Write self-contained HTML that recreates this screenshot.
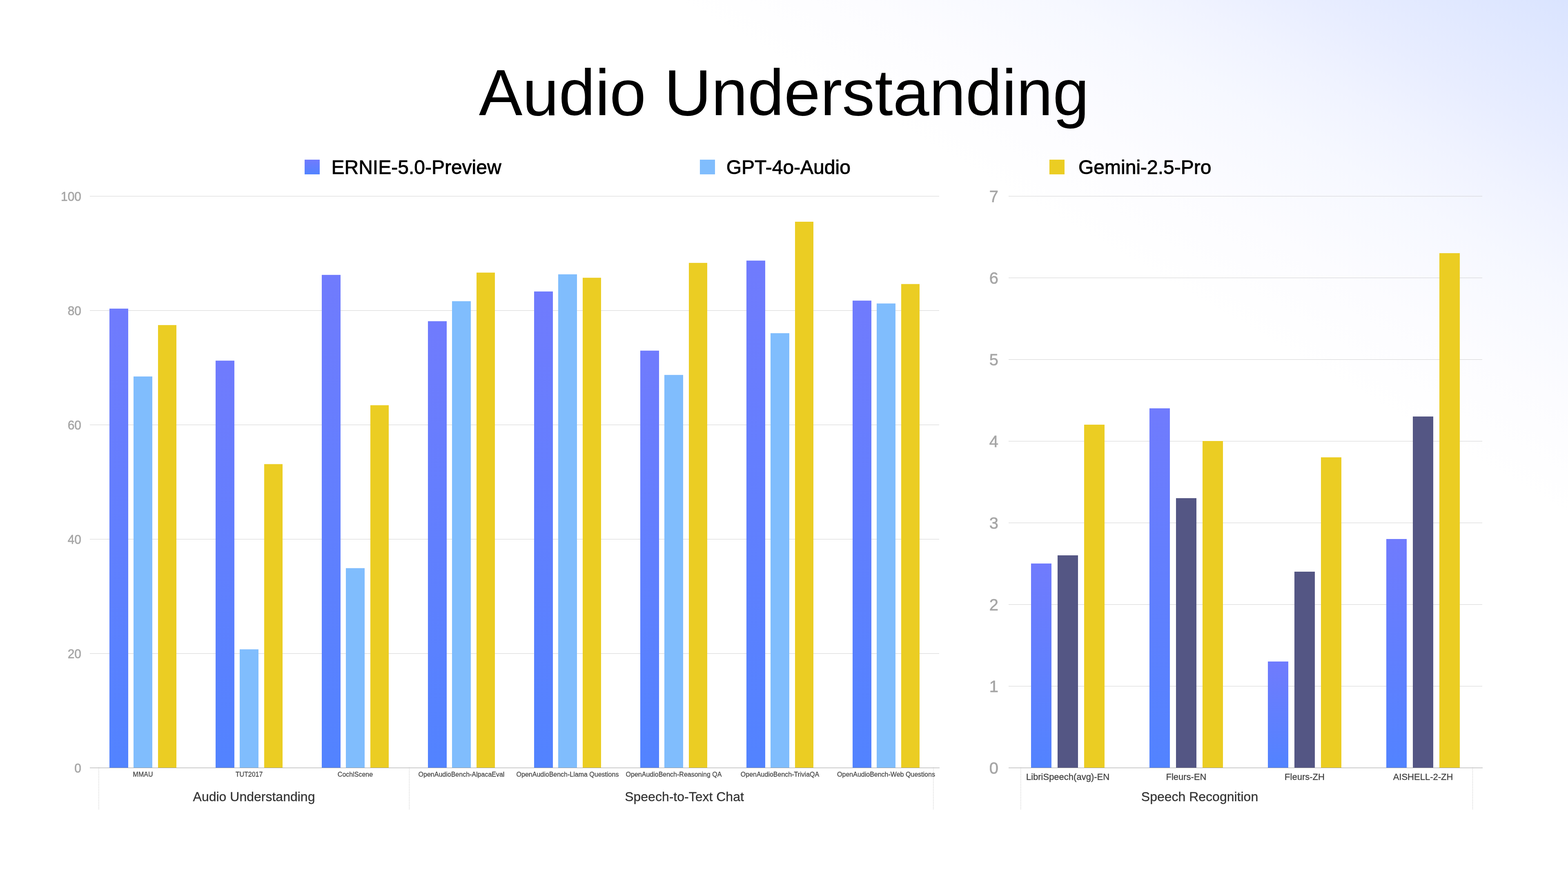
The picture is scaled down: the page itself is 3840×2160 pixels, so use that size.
<!DOCTYPE html>
<html lang="en">
<head>
<meta charset="utf-8">
<title>Audio Understanding</title>
<style>
html,body{margin:0;padding:0;}
body{width:3840px;height:2160px;background:#fff;font-family:"Liberation Sans", sans-serif;}
#slide{position:relative;width:3840px;height:2160px;overflow:hidden;
background:linear-gradient(30deg,#ffffff 0%,#ffffff 71%,#fcfcff 77.2%,#f6f8ff 83.5%,#f0f3ff 87.7%,#e8edff 91.8%,#dae4ff 100%);}
svg{position:absolute;left:0;top:0;display:block;}
text{font-family:"Liberation Sans", sans-serif;}
.title{font-size:160px;fill:#000;}
.legend{font-size:48px;fill:#000;stroke:#000;stroke-width:1px;stroke-linejoin:round;}
.tickL{font-size:30px;fill:#a6a6a6;text-anchor:end;stroke:#a6a6a6;stroke-width:0.7px;}
.tickR{font-size:40px;fill:#a6a6a6;text-anchor:end;stroke:#a6a6a6;stroke-width:0.7px;}
.catL{font-size:16px;fill:#444444;text-anchor:middle;stroke:#444444;stroke-width:0.3px;}
.catR{font-size:22px;fill:#444444;text-anchor:middle;stroke:#444444;stroke-width:0.4px;}
.group{font-size:32px;fill:#333333;text-anchor:middle;stroke:#333333;stroke-width:0.35px;}
</style>
</head>
<body>
<div id="slide">
<svg width="3840" height="2160" viewBox="0 0 3840 2160" role="img" aria-label="Audio Understanding benchmark bar charts">
<defs>
<linearGradient id="gb" x1="0" y1="0" x2="0" y2="1">
<stop offset="0" stop-color="#707bfd"/>
<stop offset="1" stop-color="#5283ff"/>
</linearGradient>
</defs>
<text class="title" x="1920" y="282" text-anchor="middle">Audio Understanding</text>
<g>
<rect x="746" y="391" width="37" height="36" fill="url(#gb)"/>
<text class="legend" x="811.5" y="426.2">ERNIE-5.0-Preview</text>
<rect x="1714" y="391" width="37" height="36" fill="#80bdfd"/>
<text class="legend" x="1778.7" y="426.2">GPT-4o-Audio</text>
<rect x="2570" y="391" width="37" height="36" fill="#ebcd23"/>
<text class="legend" x="2641" y="426.2">Gemini-2.5-Pro</text>
</g>
<g stroke="#dadada" stroke-width="2" stroke-dasharray="2 2" fill="none">
<line x1="241.8" y1="1879.8" x2="241.8" y2="1982"/>
<line x1="1002.4" y1="1879.8" x2="1002.4" y2="1982"/>
<line x1="2285.8" y1="1879.8" x2="2285.8" y2="1982"/>
<line x1="2499.8" y1="1879.8" x2="2499.8" y2="1982"/>
<line x1="3606.4" y1="1879.8" x2="3606.4" y2="1982"/>
</g>
<g id="chart-left">
<rect x="220" y="1600" width="2080" height="1" fill="#d0d0d0"/>
<rect x="220" y="1320" width="2080" height="1" fill="#d0d0d0"/>
<rect x="220" y="1040" width="2080" height="1" fill="#d0d0d0"/>
<rect x="220" y="760" width="2080" height="1" fill="#d0d0d0"/>
<rect x="220" y="480" width="2080" height="1" fill="#d0d0d0"/>
<rect x="268" y="755.8" width="46" height="1124.2" fill="url(#gb)"/>
<rect x="327" y="921.98" width="46" height="958.02" fill="#80bdfd"/>
<rect x="387" y="796.12" width="45" height="1083.88" fill="#ebcd23"/>
<rect x="528" y="883.2" width="46" height="996.8" fill="url(#gb)"/>
<rect x="587" y="1590.2" width="46" height="289.8" fill="#80bdfd"/>
<rect x="647" y="1136.6" width="45" height="743.4" fill="#ebcd23"/>
<rect x="788" y="673.2" width="46" height="1206.8" fill="url(#gb)"/>
<rect x="847" y="1391.4" width="46" height="488.6" fill="#80bdfd"/>
<rect x="907" y="992.4" width="45" height="887.6" fill="#ebcd23"/>
<rect x="1048" y="786.6" width="46" height="1093.4" fill="url(#gb)"/>
<rect x="1107" y="737.6" width="46" height="1142.4" fill="#80bdfd"/>
<rect x="1167" y="667.6" width="45" height="1212.4" fill="#ebcd23"/>
<rect x="1308" y="713.8" width="46" height="1166.2" fill="url(#gb)"/>
<rect x="1367" y="671.8" width="46" height="1208.2" fill="#80bdfd"/>
<rect x="1427" y="680.2" width="45" height="1199.8" fill="#ebcd23"/>
<rect x="1568" y="858.7" width="46" height="1021.3" fill="url(#gb)"/>
<rect x="1627" y="918.2" width="46" height="961.8" fill="#80bdfd"/>
<rect x="1687" y="643.8" width="45" height="1236.2" fill="#ebcd23"/>
<rect x="1828" y="638.2" width="46" height="1241.8" fill="url(#gb)"/>
<rect x="1887" y="816" width="46" height="1064" fill="#80bdfd"/>
<rect x="1947" y="543" width="45" height="1337" fill="#ebcd23"/>
<rect x="2088" y="736.2" width="46" height="1143.8" fill="url(#gb)"/>
<rect x="2147" y="743.2" width="46" height="1136.8" fill="#80bdfd"/>
<rect x="2207" y="695.6" width="45" height="1184.4" fill="#ebcd23"/>
<rect x="220" y="1880" width="2081" height="1" fill="#999999"/>
<text class="tickL" transform="translate(199 1891.7) scale(1 1.03)">0</text>
<text class="tickL" transform="translate(199 1611.7) scale(1 1.03)">20</text>
<text class="tickL" transform="translate(199 1331.7) scale(1 1.03)">40</text>
<text class="tickL" transform="translate(199 1051.7) scale(1 1.03)">60</text>
<text class="tickL" transform="translate(199 771.7) scale(1 1.03)">80</text>
<text class="tickL" transform="translate(199 491.7) scale(1 1.03)">100</text>
<text class="catL" x="350" y="1901.7">MMAU</text>
<text class="catL" x="610" y="1901.7">TUT2017</text>
<text class="catL" x="870" y="1901.7">CochlScene</text>
<text class="catL" x="1130" y="1901.7">OpenAudioBench-AlpacaEval</text>
<text class="catL" x="1390" y="1901.7">OpenAudioBench-Llama Questions</text>
<text class="catL" x="1650" y="1901.7">OpenAudioBench-Reasoning QA</text>
<text class="catL" x="1910" y="1901.7">OpenAudioBench-TriviaQA</text>
<text class="catL" x="2170" y="1901.7">OpenAudioBench-Web Questions</text>
</g>
<g id="chart-right">
<rect x="2470" y="1680" width="1160" height="1" fill="#d0d0d0"/>
<rect x="2470" y="1480" width="1160" height="1" fill="#d0d0d0"/>
<rect x="2470" y="1280" width="1160" height="1" fill="#d0d0d0"/>
<rect x="2470" y="1080" width="1160" height="1" fill="#d0d0d0"/>
<rect x="2470" y="880" width="1160" height="1" fill="#d0d0d0"/>
<rect x="2470" y="680" width="1160" height="1" fill="#d0d0d0"/>
<rect x="2470" y="480" width="1160" height="1" fill="#d0d0d0"/>
<rect x="2525" y="1380" width="50" height="500" fill="url(#gb)"/>
<rect x="2590" y="1360" width="50" height="520" fill="#545684"/>
<rect x="2655" y="1040" width="50" height="840" fill="#ebcd23"/>
<rect x="2815" y="1000" width="50" height="880" fill="url(#gb)"/>
<rect x="2880" y="1220" width="50" height="660" fill="#545684"/>
<rect x="2945" y="1080" width="50" height="800" fill="#ebcd23"/>
<rect x="3105" y="1620" width="50" height="260" fill="url(#gb)"/>
<rect x="3170" y="1400" width="50" height="480" fill="#545684"/>
<rect x="3235" y="1120" width="50" height="760" fill="#ebcd23"/>
<rect x="3395" y="1320" width="50" height="560" fill="url(#gb)"/>
<rect x="3460" y="1020" width="50" height="860" fill="#545684"/>
<rect x="3525" y="620" width="50" height="1260" fill="#ebcd23"/>
<rect x="2470" y="1880" width="1161" height="1" fill="#999999"/>
<text class="tickR" x="2445" y="1894.8">0</text>
<text class="tickR" x="2445" y="1694.8">1</text>
<text class="tickR" x="2445" y="1494.8">2</text>
<text class="tickR" x="2445" y="1294.8">3</text>
<text class="tickR" x="2445" y="1094.8">4</text>
<text class="tickR" x="2445" y="894.8">5</text>
<text class="tickR" x="2445" y="694.8">6</text>
<text class="tickR" x="2445" y="494.8">7</text>
<text class="catR" x="2615" y="1909.8">LibriSpeech(avg)-EN</text>
<text class="catR" x="2905" y="1909.8">Fleurs-EN</text>
<text class="catR" x="3195" y="1909.8">Fleurs-ZH</text>
<text class="catR" x="3485" y="1909.8">AISHELL-2-ZH</text>
</g>
<text class="group" x="622" y="1962.4">Audio Understanding</text>
<text class="group" x="1676" y="1962.4">Speech-to-Text Chat</text>
<text class="group" x="2938" y="1962.4">Speech Recognition</text>
</svg>
</div>
</body>
</html>
